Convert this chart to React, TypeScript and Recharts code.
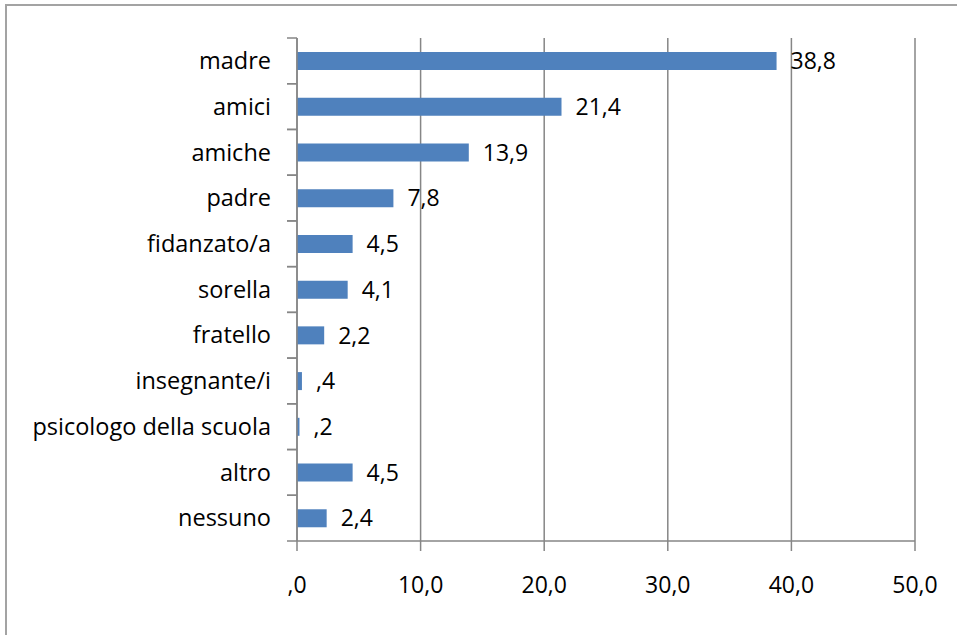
import React from "react";
import { BarChart, Bar, XAxis, YAxis, CartesianGrid, LabelList } from "recharts";

const categories = [
  "madre",
  "amici",
  "amiche",
  "padre",
  "fidanzato/a",
  "sorella",
  "fratello",
  "insegnante/i",
  "psicologo della scuola",
  "altro",
  "nessuno",
];
const values = [38.8, 21.4, 13.9, 7.8, 4.5, 4.1, 2.2, 0.4, 0.2, 4.5, 2.4];
const xTicks = [0, 10, 20, 30, 40, 50];

const data = categories.map((name, i) => ({ name, value: values[i] }));

const W = 957;
const H = 635;
const TOP = 38;
const BOTTOM_AXIS = 94;
const LEFT_AXIS = 297;
const HALF_BAND = (H - TOP - BOTTOM_AXIS) / categories.length / 2;
const GRAY = "#868686";
const FONT = "'Open Sans', sans-serif";

// italian style: comma decimals, no leading zero
const fmt = (v: number) => {
  const s = Number(v).toFixed(1).replace(".", ",");
  return s.startsWith("0,") ? s.slice(1) : s;
};

function CategoryTick(props: any) {
  const { x, y, payload } = props;
  return (
    <g>
      <line x1={x + 16} x2={x + 26} y1={y - HALF_BAND} y2={y - HALF_BAND} stroke={GRAY} strokeWidth={1.5} />
      <line x1={x + 16} x2={x + 26} y1={y + HALF_BAND} y2={y + HALF_BAND} stroke={GRAY} strokeWidth={1.5} />
      <text x={x} y={y} dy="0.35em" textAnchor="end" fill="#000" fontSize={23.5} fontFamily={FONT}>
        {payload.value}
      </text>
    </g>
  );
}

export default function App() {
  return (
    <div style={{ position: "absolute", left: 0, top: 0, width: W, height: H, background: "#fff", overflow: "hidden" }}>
      <div
        style={{
          position: "absolute",
          left: 5,
          top: 4,
          width: W,
          height: H,
          borderLeft: "2px solid #a3a3a3",
          borderTop: "2px solid #a3a3a3",
        }}
      />
      <BarChart
        width={W}
        height={H}
        data={data}
        layout="vertical"
        margin={{ top: TOP, right: 42, bottom: 0, left: 0 }}
        style={{ position: "absolute", left: 0, top: 0 }}
      >
        <CartesianGrid horizontal={false} stroke={GRAY} strokeWidth={1.5} />
        <XAxis
          type="number"
          domain={[0, 50]}
          ticks={xTicks}
          tickFormatter={(v) => (v === 0 ? ",0" : fmt(v))}
          height={BOTTOM_AXIS}
          tickSize={10}
          tickMargin={26}
          stroke={GRAY}
          strokeWidth={1.5}
          tick={{ fill: "#000", fontSize: 23, fontFamily: FONT }}
        />
        <YAxis
          type="category"
          dataKey="name"
          width={LEFT_AXIS}
          tickSize={10}
          tickMargin={16}
          tickLine={false}
          stroke={GRAY}
          strokeWidth={1.5}
          interval={0}
          tick={<CategoryTick />}
        />
        <Bar dataKey="value" fill="#4F81BD" barSize={18} isAnimationActive={false}>
          <LabelList
            dataKey="value"
            position="right"
            offset={14}
            formatter={(v: any) => fmt(v)}
            fill="#000"
            fontSize={23}
            fontFamily={FONT}
          />
        </Bar>
      </BarChart>
    </div>
  );
}
